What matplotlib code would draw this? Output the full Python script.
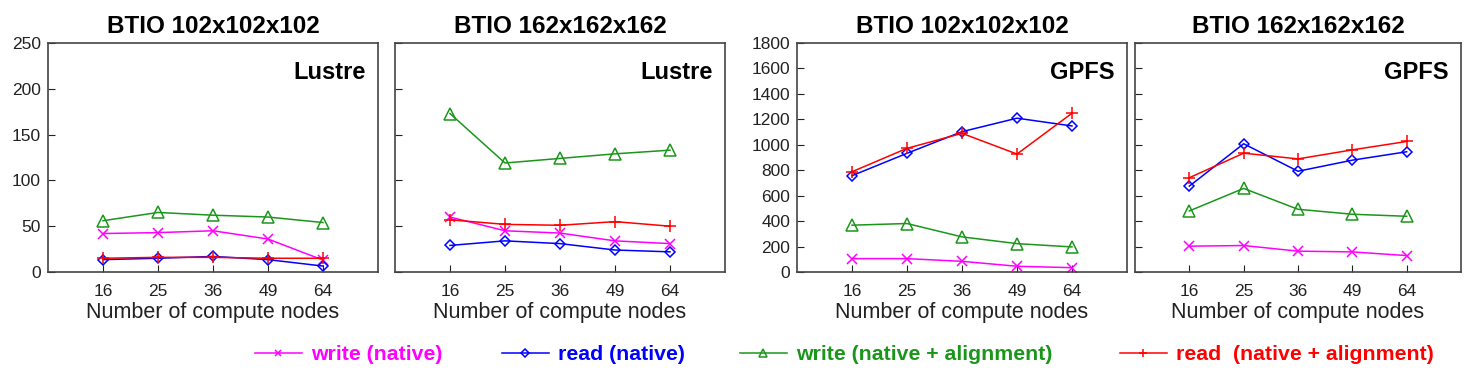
import numpy as np
import matplotlib
matplotlib.use("Agg")
import matplotlib.pyplot as plt

plt.rcParams['font.family'] = ['Liberation Sans', 'DejaVu Sans']

nodes = ['16', '25', '36', '49', '64']

titles = ['BTIO 102x102x102', 'BTIO 162x162x162', 'BTIO 102x102x102', 'BTIO 162x162x162']
fs_names = ['Lustre', 'Lustre', 'GPFS', 'GPFS']

series_names = ['write (native)', 'read (native)', 'write (native + alignment)', 'read  (native + alignment)']

# values per panel: write native, read native, write aligned, read aligned
lustre_102_write = [42, 43, 45, 36, 13]
lustre_102_read = [13.5, 15, 17, 13.5, 6.5]
lustre_102_write_al = [56, 65, 62, 60, 54]
lustre_102_read_al = [15, 16, 16, 15, 15]

lustre_162_write = [60, 45, 42.5, 34, 31]
lustre_162_read = [29, 34, 31, 24, 22]
lustre_162_write_al = [173, 119, 124, 129, 133]
lustre_162_read_al = [57, 52, 51, 55, 50]

gpfs_102_write = [105, 105, 84, 45, 34]
gpfs_102_read = [757, 933, 1103, 1209, 1148]
gpfs_102_write_al = [368, 381, 276, 223, 197]
gpfs_102_read_al = [788, 972, 1090, 927, 1248]

gpfs_162_write = [203, 208, 164, 158, 129]
gpfs_162_read = [675, 1008, 792, 879, 945]
gpfs_162_write_al = [480, 657, 493, 454, 438]
gpfs_162_read_al = [741, 934, 889, 960, 1026]

panels = [
    [lustre_102_write, lustre_102_read, lustre_102_write_al, lustre_102_read_al],
    [lustre_162_write, lustre_162_read, lustre_162_write_al, lustre_162_read_al],
    [gpfs_102_write, gpfs_102_read, gpfs_102_write_al, gpfs_102_read_al],
    [gpfs_162_write, gpfs_162_read, gpfs_162_write_al, gpfs_162_read_al],
]

colors = ['#ff00ff', '#0000ff', '#1a961a', '#ff0000']
markers = ['x', 'D', '^', '+']
msizes = [7, 5.5, 8, 9]

fig = plt.figure(figsize=(14.68, 3.74), dpi=100)
lefts = [48, 395, 797, 1135]
widths = [330, 330, 330, 326]
x = np.arange(len(nodes))

axes = []
for i, (left, w) in enumerate(zip(lefts, widths)):
    ax = fig.add_axes([left / 1468, 102 / 374, w / 1468, 229 / 374])
    axes.append(ax)
    for j, vals in enumerate(panels[i]):
        ax.plot(x, vals, color=colors[j], marker=markers[j], markersize=msizes[j],
                markerfacecolor='none', markeredgewidth=1.1, linewidth=1.1,
                label=series_names[j])
    ax.set_xlim(-1, 5)
    ax.set_xticks(x)
    ax.set_xticklabels(nodes)
    if i < 2:
        ax.set_ylim(0, 250)
        ax.set_yticks(np.arange(0, 251, 50))
    else:
        ax.set_ylim(0, 1800)
        ax.set_yticks(np.arange(0, 1801, 200))
    if i in (1, 3):
        ax.set_yticklabels([])
    ax.tick_params(direction='in', length=5, labelsize=12.5, colors='#222222',
                   top=False, right=False)
    ax.tick_params(axis='x', pad=9)
    ax.tick_params(axis='y', pad=5)
    for s in ax.spines.values():
        s.set_color('#444444')
        s.set_linewidth(1.2)
    ax.set_xlabel('Number of compute nodes', fontsize=15.5, labelpad=2, color='#222222')
    ax.set_title(titles[i], fontsize=17.5, fontweight='bold', pad=7)
    ax.text(0.963, 0.87, fs_names[i], transform=ax.transAxes, ha='right', va='center',
            fontsize=17, fontweight='bold')

handles, labels = axes[0].get_legend_handles_labels()
legend_x = [255, 502, 740, 1120]
for h, lab, lx in zip(handles, labels, legend_x):
    fig.legend([h], [lab], loc='center left', bbox_to_anchor=(lx / 1468, 1 - 355 / 374),
               frameon=False, handlelength=2.2, handletextpad=0.45, borderpad=0,
               borderaxespad=0, markerscale=0.7,
               prop={'weight': 'bold', 'size': 15.3}, labelcolor='linecolor')

fig.savefig('out.png', dpi=100)
